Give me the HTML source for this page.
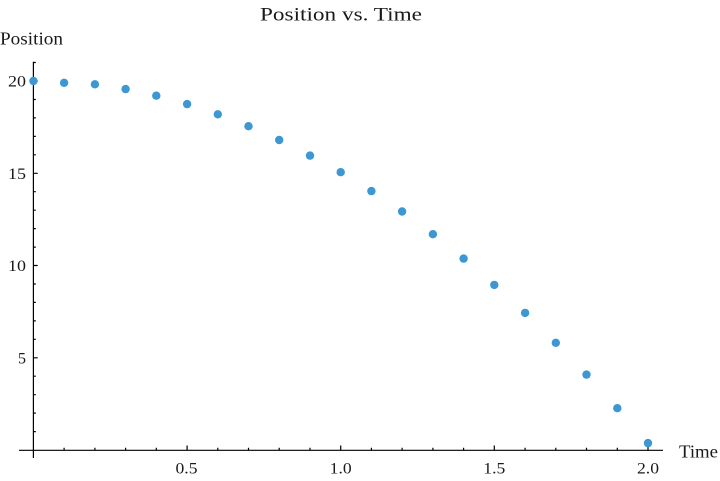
<!DOCTYPE html>
<html><head><meta charset="utf-8"><style>
html,body{margin:0;padding:0;background:#fff;}
svg{display:block;}
text{font-family:"Liberation Serif",serif;fill:#1a1a1a;}
</style></head><body>
<svg width="720" height="481" viewBox="0 0 720 481" xmlns="http://www.w3.org/2000/svg">
<text x="341" y="20.5" font-size="19" text-anchor="middle" textLength="162" lengthAdjust="spacingAndGlyphs">Position vs. Time</text>
<text x="0" y="44.3" font-size="18" textLength="63" lengthAdjust="spacingAndGlyphs">Position</text>
<text x="679" y="457.5" font-size="18" textLength="39" lengthAdjust="spacingAndGlyphs">Time</text>
<g stroke="#000" stroke-width="1.2" fill="none">
<line x1="33.4" y1="61.7" x2="33.4" y2="458"/>
<line x1="19" y1="450.3" x2="663" y2="450.3"/>
<path id="yt" d="M33.4 62.5h2.4M33.4 81h4.3M33.4 99.5h2.4M33.4 117.9h2.4M33.4 136.4h2.4M33.4 154.8h2.4M33.4 173.3h4.3M33.4 191.7h2.4M33.4 210.2h2.4M33.4 228.6h2.4M33.4 247.1h2.4M33.4 265.5h4.3M33.4 284h2.4M33.4 302.4h2.4M33.4 320.9h2.4M33.4 339.3h2.4M33.4 357.8h4.3M33.4 376.2h2.4M33.4 394.7h2.4M33.4 413.1h2.4M33.4 431.6h2.4"/>
<path d="M64.1 450.3v-2.6M94.9 450.3v-2.6M125.6 450.3v-2.6M156.3 450.3v-2.6M187.1 450.3v-4.8M217.8 450.3v-2.6M248.5 450.3v-2.6M279.2 450.3v-2.6M310 450.3v-2.6M340.7 450.3v-4.8M371.4 450.3v-2.6M402.1 450.3v-2.6M432.9 450.3v-2.6M463.6 450.3v-2.6M494.3 450.3v-4.8M525.1 450.3v-2.6M555.8 450.3v-2.6M586.5 450.3v-2.6M617.3 450.3v-2.6M648 450.3v-4.8"/>
</g>
<g font-size="16" text-anchor="end">
<text x="26" y="86.5" textLength="18" lengthAdjust="spacingAndGlyphs">20</text>
<text x="26" y="178.8" textLength="18" lengthAdjust="spacingAndGlyphs">15</text>
<text x="26" y="271" textLength="18" lengthAdjust="spacingAndGlyphs">10</text>
<text x="26" y="363.3">5</text>
</g>
<g font-size="16" text-anchor="middle">
<text x="186.5" y="473.3" textLength="22" lengthAdjust="spacingAndGlyphs">0.5</text>
<text x="340.7" y="473.3" textLength="22" lengthAdjust="spacingAndGlyphs">1.0</text>
<text x="494.3" y="473.3" textLength="22" lengthAdjust="spacingAndGlyphs">1.5</text>
<text x="648" y="473.3" textLength="22" lengthAdjust="spacingAndGlyphs">2.0</text>
</g>
<g fill="#3c97d2">
<circle cx="33.4" cy="81" r="4.2"/>
<circle cx="64.1" cy="82.8" r="4.2"/>
<circle cx="94.9" cy="84.3" r="4.2"/>
<circle cx="125.6" cy="89.1" r="4.2"/>
<circle cx="156.3" cy="95.7" r="4.2"/>
<circle cx="187.1" cy="104.1" r="4.2"/>
<circle cx="217.8" cy="114.3" r="4.2"/>
<circle cx="248.5" cy="126.2" r="4.2"/>
<circle cx="279.2" cy="140" r="4.2"/>
<circle cx="310" cy="155.6" r="4.2"/>
<circle cx="340.7" cy="172.2" r="4.2"/>
<circle cx="371.4" cy="191.1" r="4.2"/>
<circle cx="402.1" cy="211.5" r="4.2"/>
<circle cx="432.9" cy="234.2" r="4.2"/>
<circle cx="463.6" cy="258.6" r="4.2"/>
<circle cx="494.3" cy="284.9" r="4.2"/>
<circle cx="525.1" cy="312.9" r="4.2"/>
<circle cx="555.8" cy="342.8" r="4.2"/>
<circle cx="586.5" cy="374.6" r="4.2"/>
<circle cx="617.3" cy="408.2" r="4.2"/>
<circle cx="648" cy="443.1" r="4.2"/>
</g>
</svg>
</body></html>
